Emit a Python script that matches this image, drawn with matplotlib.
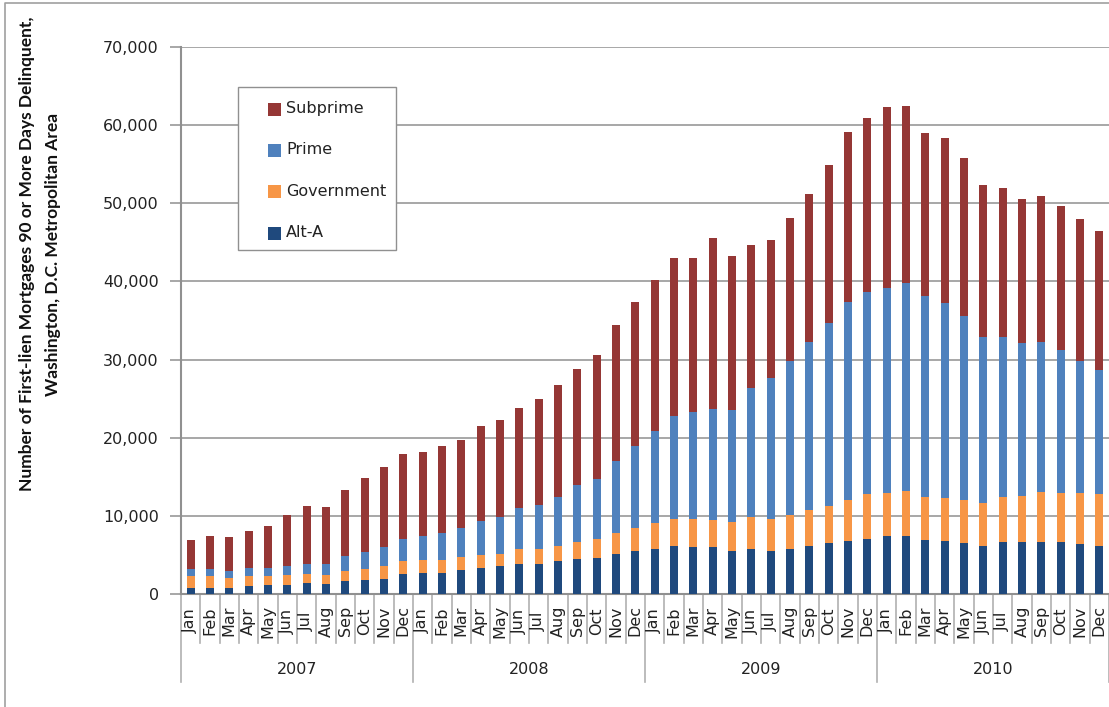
import matplotlib.pyplot as plt
from matplotlib.lines import Line2D
from matplotlib.patches import Rectangle
import matplotlib.transforms as mtransforms

C_SUB   = "#953735"
C_PRIME = "#4F81BD"
C_GOV   = "#F79646"
C_ALTA  = "#1F497D"
C_GRID  = "#A0A0A0"
C_SEP   = "#B0B0B0"

# ── Data (delinquent first-lien mortgages, by loan type) ─────────────────────
years  = ["2007", "2008", "2009", "2010"]
months = ["Jan", "Feb", "Mar", "Apr", "May", "Jun",
          "Jul", "Aug", "Sep", "Oct", "Nov", "Dec"]

alt_a = [770, 770, 770, 1000, 1150, 1150, 1400, 1300, 1700, 1800, 1960, 2500,
         2700, 2700, 3100, 3300, 3600, 3900, 3900, 4200, 4500, 4650, 5100, 5500,
         5800, 6200, 6050, 6050, 5500, 5800, 5500, 5800, 6200, 6500, 6800, 7100,
         7400, 7400, 6950, 6800, 6500, 6200, 6650, 6650, 6650, 6650, 6350, 6200]
government = [1490, 1490, 1330, 1260, 1110, 1250, 1160, 1100, 1270, 1400, 1640, 1700,
              1600, 1600, 1650, 1650, 1500, 1800, 1800, 1950, 2200, 2400, 2700, 3000,
              3250, 3400, 3550, 3400, 3700, 4000, 4100, 4300, 4500, 4800, 5200, 5650,
              5500, 5800, 5500, 5500, 5500, 5500, 5800, 5950, 6350, 6250, 6550, 6550]
prime = [940, 940, 900, 1070, 1070, 1200, 1340, 1500, 1830, 2200, 2400, 2900,
         3100, 3500, 3650, 4350, 4800, 5300, 5700, 6300, 7250, 7650, 9250, 10400,
         11750, 13200, 13700, 14250, 14400, 16500, 18000, 19700, 21500, 23400, 25400, 25950,
         26200, 26600, 25650, 24950, 23600, 21250, 20500, 19500, 19250, 18300, 16950, 15900]
subprime = [3700, 4220, 4250, 4670, 5420, 6500, 7350, 7200, 8500, 9500, 10250, 10800,
            10800, 11100, 11300, 12200, 12400, 12800, 13550, 14300, 14850, 15900, 17350, 18500,
            19400, 20150, 19650, 21900, 19650, 18300, 17700, 18300, 19000, 20250, 21700, 22200,
            23200, 22650, 20900, 21150, 20200, 19450, 18950, 18500, 18650, 18400, 18150, 17850]

series = [("Alt-A", alt_a, C_ALTA), ("Government", government, C_GOV),
          ("Prime", prime, C_PRIME), ("Subprime", subprime, C_SUB)]

# ── Figure ────────────────────────────────────────────────────────────────────
W, H = 1109, 707
fig = plt.figure(figsize=(W / 100, H / 100), dpi=100)
fig.patch.set_facecolor("white")
ax = fig.add_axes([181 / W, 1 - 594 / H, 1 - 181 / W, (594 - 47) / H])

n = len(years) * len(months)
x = list(range(n))
bottom = [0] * n
for name, vals, color in series:
    ax.bar(x, vals, width=0.42, bottom=bottom, color=color,
           linewidth=0, zorder=3, label=name)
    bottom = [b + v for b, v in zip(bottom, vals)]

ax.set_xlim(-0.5, n - 0.5)
ax.set_ylim(0, 70000)
ax.set_yticks(range(0, 70001, 10000))
ax.set_yticklabels([f"{v:,}" for v in range(0, 70001, 10000)],
                   fontsize=11.5, color="#222222")
ax.yaxis.grid(True, color=C_GRID, linewidth=1.3, zorder=0)
ax.tick_params(axis="y", length=8, width=1.3, color=C_GRID, pad=8)
ax.set_xticks([])
for s in ["top", "right"]:
    ax.spines[s].set_visible(False)
for s in ["left", "bottom"]:
    ax.spines[s].set_color("#909090")
    ax.spines[s].set_linewidth(1.5)

# ── Two-level category axis ───────────────────────────────────────────────────
trans = mtransforms.blended_transform_factory(ax.transData, ax.transAxes)
ax_h = 594 - 47
y_month_line = -(643 - 594) / ax_h
y_year_line  = -(682 - 594) / ax_h
y_month_txt  = -(621 - 594) / ax_h
y_year_txt   = -(670 - 594) / ax_h

for i in range(n):
    ax.text(i, y_month_txt, months[i % 12], transform=trans, rotation=90,
            ha="center", va="center", fontsize=11.5, color="#222222")
for i in range(n + 1):
    xb = i - 0.5
    yb = y_year_line if i % 12 == 0 else y_month_line
    ax.add_line(Line2D([xb, xb], [0, yb], transform=trans, color=C_SEP,
                       linewidth=1.2, clip_on=False))
for k, yr in enumerate(years):
    ax.text(k * 12 + 5.5, y_year_txt, yr, transform=trans,
            ha="center", va="center", fontsize=11.5, color="#222222")

# ── Y label ───────────────────────────────────────────────────────────────────
fig.text(40 / W, 1 - 254 / H,
         "Number of First-lien Mortgages 90 or More Days Delinquent,\n"
         "Washington, D.C. Metropolitan Area",
         rotation=90, ha="center", va="center", multialignment="center",
         fontsize=12.5, weight="bold", family="Lato", color="#111111",
         linespacing=1.75)

# ── Legend (manual, pixel placement) ─────────────────────────────────────────
px = mtransforms.Affine2D().scale(1 / W, -1 / H).translate(0, 1) + fig.transFigure
fig.add_artist(Rectangle((238, 87), 158, 163, transform=px, facecolor="white",
                         edgecolor="#909090", linewidth=1.0, zorder=5))
leg_y = [109, 150, 191, 233]
for (name, vals, color), yy in zip(series[::-1], leg_y):
    fig.add_artist(Rectangle((268, yy - 6.5), 13, 13, transform=px,
                             facecolor=color, edgecolor="none", zorder=6))
    fig.text(286 / W, 1 - yy / H, name, ha="left", va="center",
             fontsize=11.5, color="#222222", zorder=7)

# outer chart border (left and top edges)
fig.add_artist(Line2D([5, 5, W], [H, 3, 3], transform=px,
                      color="#A0A0A0", linewidth=1.2))

plt.savefig("out.png", dpi=100, facecolor="white")
